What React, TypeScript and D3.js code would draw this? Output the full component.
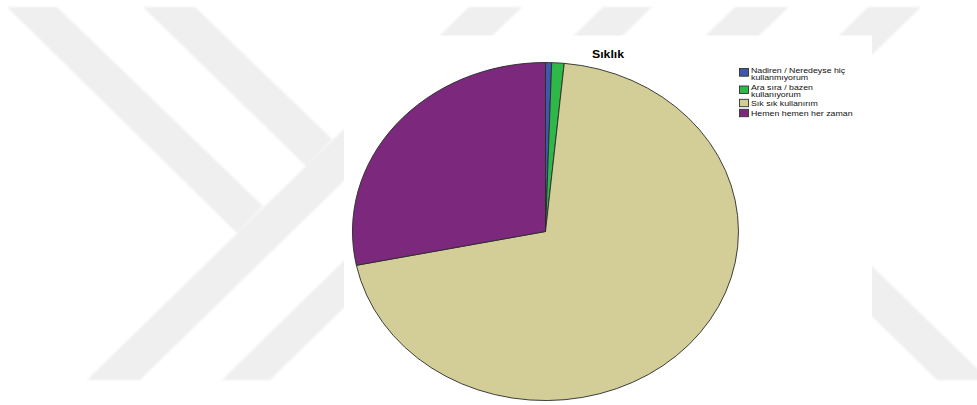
import React from "react";
import * as d3 from "d3";

const categories = [
  "Nadiren / Neredeyse hiç kullanmıyorum",
  "Ara sıra / bazen kullanıyorum",
  "Sık sık kullanırım",
  "Hemen hemen her zaman",
];
const legendLines = [
  ["Nadiren / Neredeyse hiç", "kullanmıyorum"],
  ["Ara sıra / bazen", "kullanıyorum"],
  ["Sık sık kullanırım"],
  ["Hemen hemen her zaman"],
];
const counts = [1, 2, 137, 55];
const colors = ["#3e58ac", "#2eb848", "#d3ce97", "#7c287d"];
const title = "Sıklık";

const W = 977;
const H = 405;

// watermark bands (background decoration)
const watermark: [number, number][][] = [
  [[7, 7], [57, 7], [263, 206], [237, 233]],
  [[87, 380], [140, 380], [522, 7], [469, 7]],
  [[143, 7], [195, 7], [332, 139], [306, 166]],
  [[222, 380], [270, 380], [652, 7], [603, 7]],
  [[735, 7], [789, 7], [400, 380], [350, 380]],
  [[868, 7], [921, 7], [540, 380], [490, 380]],
  [[760, 157], [989, 380], [937, 380], [760, 207]],
];

export default function App() {
  const cx = 545.5;
  const cy = 231.5;
  const rx = 193;
  const ry = 169;

  const pie = d3
    .pie<number>()
    .sort(null)
    .startAngle(0)
    .endAngle(2 * Math.PI)
    .value((d) => d);
  const arcs = pie(counts);
  const arc = d3.arc<d3.PieArcDatum<number>>().innerRadius(0).outerRadius(1);

  const panel = { x0: 344, x1: 872, y0: 35.5, y1: 405 };
  const line = d3.line();

  const legendX = 739.5;
  const swatchW = 9;
  const textX = 751;
  const legendItems = [
    { sy: 68.5, sh: 7.7, base: [72.5, 79.5] },
    { sy: 86, sh: 7.5, base: [90, 97] },
    { sy: 99.3, sh: 7.4, base: [106] },
    { sy: 109.3, sh: 7.4, base: [116] },
  ];

  return (
    <svg
      width={W}
      height={H}
      style={{ position: "absolute", left: 0, top: 0, display: "block" }}
      fontFamily="'Liberation Sans', Arial, sans-serif"
    >
      <rect x={0} y={0} width={W} height={H} fill="#ffffff" />
      <defs>
        <filter id="blur" x="-5%" y="-5%" width="110%" height="110%">
          <feGaussianBlur stdDeviation="0.8" />
        </filter>
      </defs>
      <g fill="#efefef" filter="url(#blur)">
        {watermark.map((p, i) => (
          <path key={i} d={line(p) + "Z"} />
        ))}
      </g>
      <rect
        x={panel.x0}
        y={panel.y0}
        width={panel.x1 - panel.x0}
        height={panel.y1 - panel.y0}
        fill="#ffffff"
      />
      <text
        transform={`translate(${(panel.x0 + panel.x1) / 2},57.5) scale(1.12,1)`}
        textAnchor="middle"
        fontWeight="bold"
        fontSize={11}
        fill="#000"
      >
        {title}
      </text>
      <g transform={`translate(${cx},${cy}) scale(${rx},${ry})`}>
        {arcs.map((a, i) => (
          <path
            key={categories[i]}
            d={arc(a) || ""}
            fill={colors[i]}
            stroke="#2a2a2a"
            strokeWidth={0.9}
            vectorEffect="non-scaling-stroke"
            strokeLinejoin="round"
          />
        ))}
      </g>
      <g>
        {legendItems.map((it, i) => (
          <g key={categories[i]}>
            <rect
              x={legendX}
              y={it.sy}
              width={swatchW}
              height={it.sh}
              fill={colors[i]}
              stroke="#333"
              strokeWidth={0.9}
            />
            {legendLines[i].map((t, j) => (
              <text
                key={j}
                transform={`translate(${textX},${it.base[j]}) scale(1.1,1)`}
                fontSize={8}
                fill="#111"
              >
                {t}
              </text>
            ))}
          </g>
        ))}
      </g>
    </svg>
  );
}
